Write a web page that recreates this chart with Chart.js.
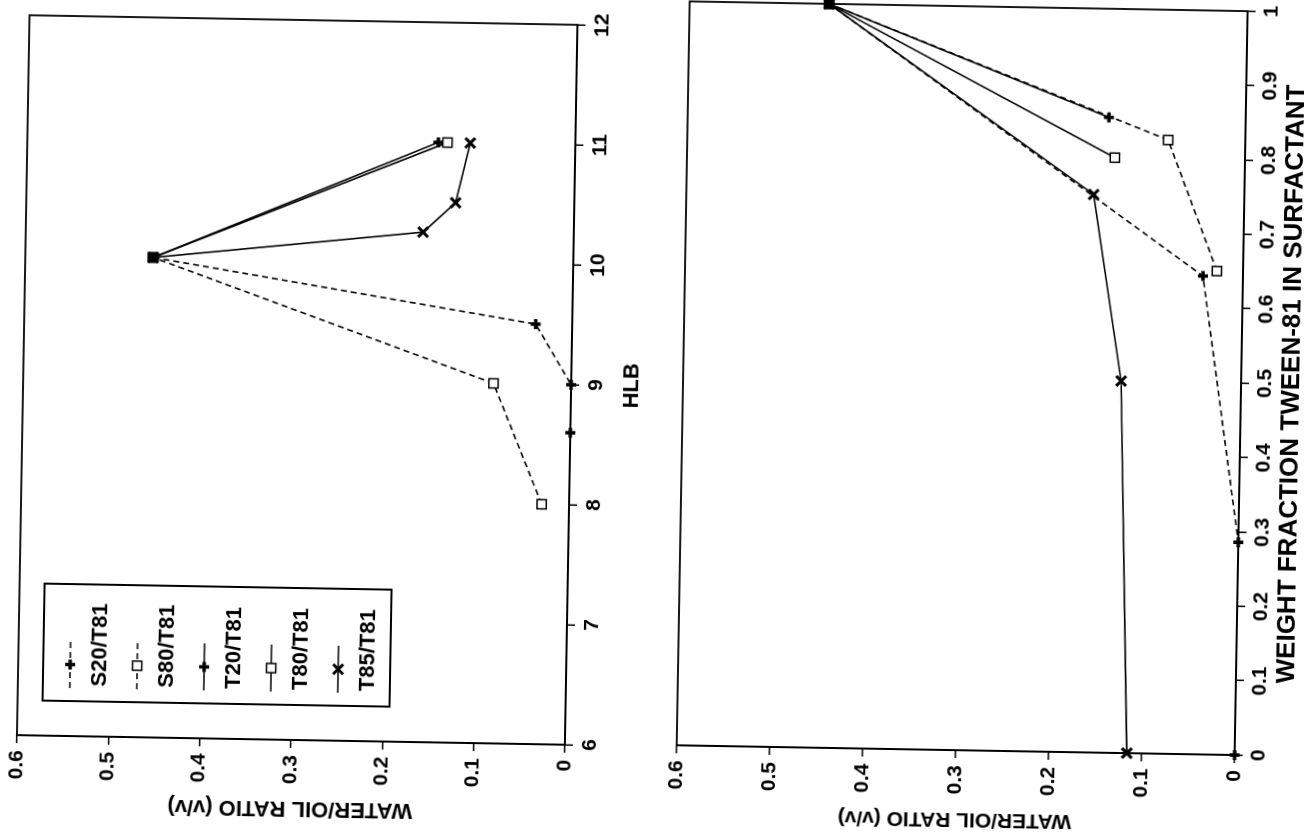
<!DOCTYPE html>
<html lang="en">
<head>
<meta charset="UTF-8" />
<title>Water/oil ratio vs HLB and Tween-81 fraction</title>
<script src="https://cdn.jsdelivr.net/npm/chart.js"></script>
<style>
  html, body { margin: 0; padding: 0; background: #fff; overflow: hidden; }
  body { width: 1304px; height: 839px; position: relative; }
  /* both panels are drawn upright and then turned like the scanned page */
  .panel { position: absolute; transform-origin: center center; transform: rotate(-89deg); }
  #leftPanel { left: -93.5px; top: 93.5px; width: 839px; height: 652px; }
  #rightPanel { left: 553px; top: 84.5px; width: 849px; height: 660px; }
</style>
</head>
<body>
  <div id="leftPanel" class="panel"><canvas id="hlbChart" width="839" height="652"></canvas></div>
  <div id="rightPanel" class="panel"><canvas id="fracChart" width="849" height="660"></canvas></div>

<script>
// ---- data: top chart, water/oil ratio against HLB ----
const seriesNames = ['S20/T81', 'S80/T81', 'T20/T81', 'T80/T81', 'T85/T81'];

const hlbS20 = [8.6, 9.0, 9.5, 10.0];
const worS20 = [0, 0, 0.04, 0.46];
const hlbS80 = [8.0, 9.0, 10.0];
const worS80 = [0.03, 0.085, 0.46];
const hlbT20 = [10.0, 11.0];
const worT20 = [0.46, 0.15];
const hlbT80 = [10.0, 11.0];
const worT80 = [0.46, 0.14];
const hlbT85 = [10.0, 10.25, 10.5, 11.0];
const worT85 = [0.46, 0.165, 0.13, 0.115];

// ---- data: bottom chart, water/oil ratio against weight fraction Tween-81 ----
const fracS20 = [0, 0.286, 0.643, 1.0];
const wor2S20 = [0, 0, 0.043, 0.45];
const fracS80 = [0.65, 0.825, 1.0];
const wor2S80 = [0.028, 0.083, 0.45];
const fracT20 = [0.854, 1.0];
const wor2T20 = [0.147, 0.45];
const fracT80 = [0.8, 1.0];
const wor2T80 = [0.14, 0.45];
const fracT85 = [0, 0.5, 0.75, 1.0];
const wor2T85 = [0.116, 0.129, 0.162, 0.45];

const worTicks = [0, 0.1, 0.2, 0.3, 0.4, 0.5, 0.6];

Chart.defaults.font.family = '"Liberation Sans", Arial, sans-serif';
Chart.defaults.font.weight = 'bold';
Chart.defaults.color = '#000';

const pts = (xs, ys) => xs.map((x, i) => ({ x: x, y: ys[i] }));
const shortNum = v => String(+Number(v).toFixed(2));

// line and marker look for each series, same order as seriesNames
const looks = [
  { dash: [6, 4], style: 'cross', r: 5, bw: 3.5 },
  { dash: [6, 4], style: 'rect', r: 6.5, bw: 1.5 },
  { dash: [], style: 'cross', r: 5, bw: 3.5 },
  { dash: [], style: 'rect', r: 6.5, bw: 1.5 },
  { dash: [], style: 'crossRot', r: 7, bw: 3 }
];

function makeSets(pairs, pureX) {
  return pairs.map((p, i) => ({
    label: seriesNames[i],
    data: pts(p[0], p[1]),
    showLine: true,
    borderColor: '#000',
    borderWidth: 1.6,
    borderDash: looks[i].dash,
    pointStyle: looks[i].style,
    pointRadius: looks[i].r,
    pointBorderWidth: looks[i].bw,
    pointBorderColor: '#000',
    // all series meet at pure Tween-81, where the stacked symbols print solid
    pointBackgroundColor: c => (c.raw && c.raw.x === pureX ? '#000' : '#fff'),
    clip: false
  }));
}

const framePlugin = {
  id: 'frame',
  beforeDatasetsDraw(chart) {
    const { ctx, chartArea: a } = chart;
    ctx.save();
    ctx.strokeStyle = '#000';
    ctx.lineWidth = 1.8;
    ctx.strokeRect(a.left, a.top, a.right - a.left, a.bottom - a.top);
    ctx.restore();
  }
};

// boxed legend inside the plot, sample line above each name
const boxLegend = {
  id: 'boxLegend',
  afterDraw(chart) {
    const { ctx, chartArea: a } = chart;
    const bx = a.left + 35, by = a.top + 25, bw = 117, bh = 347;
    ctx.save();
    ctx.strokeStyle = '#000';
    ctx.fillStyle = '#000';
    ctx.lineWidth = 2;
    ctx.strokeRect(bx, by, bw, bh);
    seriesNames.forEach((name, i) => {
      const ly = by + 27 + 67 * i;
      const x0 = bx + 13, x1 = bx + 60, xm = (x0 + x1) / 2;
      ctx.lineWidth = 1.6;
      ctx.setLineDash(looks[i].dash);
      ctx.beginPath(); ctx.moveTo(x0, ly); ctx.lineTo(x1, ly); ctx.stroke();
      ctx.setLineDash([]);
      ctx.lineWidth = looks[i].bw;
      if (looks[i].style === 'rect') {
        const s = looks[i].r * Math.SQRT1_2;
        ctx.fillStyle = '#fff';
        ctx.fillRect(xm - s, ly - s, 2 * s, 2 * s);
        ctx.strokeRect(xm - s, ly - s, 2 * s, 2 * s);
      } else {
        Chart.helpers.drawPoint(ctx, {
          pointStyle: looks[i].style, radius: looks[i].r, borderWidth: looks[i].bw
        }, xm, ly);
      }
      ctx.fillStyle = '#000';
      ctx.font = 'bold 22px "Liberation Sans", Arial, sans-serif';
      ctx.textBaseline = 'middle';
      ctx.fillText(name, x0 + 2, ly + 30);
    });
    ctx.restore();
  }
};

function axisBase(extra) {
  return Object.assign({
    type: 'linear',
    grid: { drawOnChartArea: false, drawTicks: true, tickLength: 8, color: '#000', lineWidth: 1.5 },
    border: { color: '#000', width: 2 }
  }, extra);
}

new Chart(document.getElementById('hlbChart'), {
  type: 'scatter',
  data: {
    datasets: makeSets([[hlbS20, worS20], [hlbS80, worS80], [hlbT20, worT20], [hlbT80, worT80], [hlbT85, worT85]], 10)
  },
  options: {
    responsive: false,
    animation: false,
    layout: { padding: { top: 22, right: 20, left: 0, bottom: 0 } },
    plugins: { legend: { display: false }, tooltip: { enabled: false } },
    scales: {
      x: axisBase({
        min: 6, max: 12,
        ticks: { stepSize: 1, padding: 5, font: { size: 21 } },
        title: { display: true, text: 'HLB', font: { size: 22, lineHeight: 1 }, padding: { top: 0, bottom: 10 } },
        afterFit: s => { s.height = 82; }
      }),
      y: axisBase({
        min: 0, max: 0.6,
        afterBuildTicks: s => { s.ticks = worTicks.map(v => ({ value: v })); },
        ticks: { padding: 7, font: { size: 21 }, callback: shortNum },
        title: { display: true, text: 'WATER/OIL RATIO (v/v)', font: { size: 22, lineHeight: 1 }, padding: { top: 20, bottom: 0 } },
        afterFit: s => { s.width = 99; }
      })
    }
  },
  plugins: [framePlugin, boxLegend]
});

new Chart(document.getElementById('fracChart'), {
  type: 'scatter',
  data: {
    datasets: makeSets([[fracS20, wor2S20], [fracS80, wor2S80], [fracT20, wor2T20], [fracT80, wor2T80], [fracT85, wor2T85]], 1)
  },
  options: {
    responsive: false,
    animation: false,
    layout: { padding: { top: 35, right: 16, left: 0, bottom: 0 } },
    plugins: { legend: { display: false }, tooltip: { enabled: false } },
    scales: {
      x: axisBase({
        min: 0, max: 1,
        ticks: { stepSize: 0.1, padding: 4, font: { size: 21 }, callback: shortNum },
        title: { display: true, text: 'WEIGHT FRACTION TWEEN-81 IN SURFACTANT', font: { size: 26, lineHeight: 1 }, padding: { top: 0, bottom: 3 } },
        afterFit: s => { s.height = 67; }
      }),
      y: axisBase({
        min: 0, max: 0.6,
        afterBuildTicks: s => { s.ticks = worTicks.map(v => ({ value: v })); },
        ticks: { padding: 7, font: { size: 21 }, callback: shortNum },
        title: { display: true, text: 'WATER/OIL RATIO (v/v)', font: { size: 21, lineHeight: 1 }, padding: { top: 10, bottom: 0 } },
        afterFit: s => { s.width = 89; }
      })
    }
  },
  plugins: [framePlugin]
});
</script>
</body>
</html>
